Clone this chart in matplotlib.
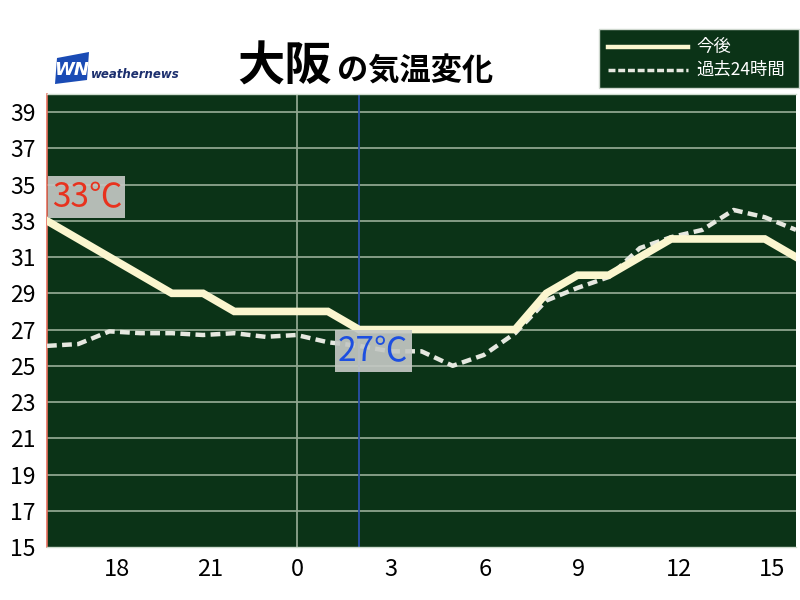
import matplotlib
matplotlib.use('Agg')
import matplotlib.pyplot as plt
from matplotlib.patches import Polygon, Rectangle
from matplotlib.lines import Line2D
from matplotlib.transforms import ScaledTranslation

plt.rcParams['font.family'] = ['Noto Sans CJK JP', 'DejaVu Sans']

# hours since 16:00 of the previous day
hours = list(range(25))
# 今後 (forecast / observed, solid)
temp_now = [33, 32, 31, 30, 29, 29, 28, 28, 28, 28, 27, 27, 27,
            27, 27, 27, 29, 30, 30, 31, 32, 32, 32, 32, 31]
# 過去24時間 (same hours one day earlier, dashed)
temp_past = [26.1, 26.2, 26.9, 26.8, 26.8, 26.7, 26.8, 26.6, 26.7, 26.3, 26.1, 25.8, 25.8,
             25.0, 25.6, 26.8, 28.6, 29.3, 29.9, 31.5, 32.1, 32.5, 33.6, 33.2, 32.5]

xtick_pos = [2, 5, 8, 11, 14, 17, 20, 23]
xtick_labels = ['18', '21', '0', '3', '6', '9', '12', '15']
yticks = list(range(15, 40, 2))

midnight = 8
now_hour = 10
max_label = '33℃'
min_label = '27℃'

BG = '#0b3317'
GRID = '#8ea58e'
SOLID = '#fbf6cf'
DASH = '#e6e8e0'

fig = plt.figure(figsize=(8, 6), dpi=100)
fig.patch.set_facecolor('white')
ax = fig.add_axes([47 / 800, 53 / 600, 749 / 800, 453 / 600])
ax.set_facecolor(BG)

ax.set_xlim(0, 24)
ax.set_ylim(15, 40)

for y in yticks[1:]:
    ax.axhline(y, color=GRID, lw=1.3, zorder=1)
ax.axvline(midnight, color=GRID, lw=1.3, zorder=1)
ax.axvline(now_hour, color='#2a4fa8', lw=1.3, zorder=1)

ax.plot(hours, temp_past, color=DASH, lw=3.2, ls=(0, (2.2, 1.2)), zorder=3,
        solid_joinstyle='round')
ax.plot(hours, temp_now, color=SOLID, lw=5.5, zorder=4, solid_joinstyle='miter')

ax.set_xticks(xtick_pos)
ax.set_xticklabels(xtick_labels, fontsize=17)
ax.set_yticks(yticks)
ax.set_yticklabels([str(v) for v in yticks], fontsize=16.5)
ax.tick_params(length=0, pad=8, colors='black')
ax.tick_params(axis='y', pad=8)

# labels start just left of their hour, as in the original
shift = ScaledTranslation(-0.055, 0, fig.dpi_scale_trans)
for lab in ax.get_xticklabels():
    lab.set_ha('left')
    lab.set_transform(lab.get_transform() + shift)

for s in ['top', 'bottom', 'right']:
    ax.spines[s].set_color('#cfdccf')
    ax.spines[s].set_linewidth(1.0)
ax.spines['right'].set_visible(False)
ax.spines['left'].set_color('#e8705f')
ax.spines['left'].set_linewidth(1.2)

box = dict(boxstyle='square,pad=0.1', facecolor='#c4c8c4', edgecolor='none', alpha=0.92)
ax.text(0.15, 34.3, max_label, color='#e8321e', fontsize=24, ha='left', va='center',
        bbox=box, zorder=6)
ax.text(10.45, 25.8, min_label, color='#1d4fe0', fontsize=24, ha='center', va='center',
        bbox=box, zorder=6)

# title
fig.text(0.296, 0.865, '大阪', fontsize=34, fontweight='bold', ha='left', va='baseline')
fig.text(0.421, 0.865, 'の気温変化', fontsize=22.5, fontweight='bold', ha='left', va='baseline')

# logo
logo = Polygon([[57 / 800, 1 - 58 / 600], [89 / 800, 1 - 52 / 600],
                [87 / 800, 1 - 80 / 600], [55 / 800, 1 - 84 / 600]],
               closed=True, transform=fig.transFigure, facecolor='#1a4bb5',
               edgecolor='none')
fig.patches.append(logo)
fig.text(72 / 800, 1 - 70 / 600, 'WN', color='white', fontsize=13, fontweight='bold',
         style='italic', ha='center', va='center', family='DejaVu Sans')
fig.text(91 / 800, 1 - 74 / 600, 'weathernews', color='#1c2f6e', fontsize=8.5,
         fontweight='bold', style='italic', ha='left', va='center', family='DejaVu Sans')

# legend box
fig.patches.append(Rectangle((599 / 800, 1 - 88 / 600), 200 / 800, 59 / 600,
                             transform=fig.transFigure, facecolor=BG,
                             edgecolor='#cfd8cf', lw=1.0))
fig.lines.append(Line2D([608 / 800, 688 / 800], [1 - 47 / 600] * 2,
                        transform=fig.transFigure, color=SOLID, lw=3.2))
fig.lines.append(Line2D([608 / 800, 688 / 800], [1 - 70 / 600] * 2,
                        transform=fig.transFigure, color=DASH, lw=2.5,
                        ls=(0, (2, 0.8))))
fig.text(696 / 800, 1 - 47 / 600, '今後', color='white', fontsize=12.5, ha='left', va='center')
fig.text(696 / 800, 1 - 70 / 600, '過去24時間', color='white', fontsize=12.5,
         ha='left', va='center')

fig.savefig('out.png', dpi=100)
